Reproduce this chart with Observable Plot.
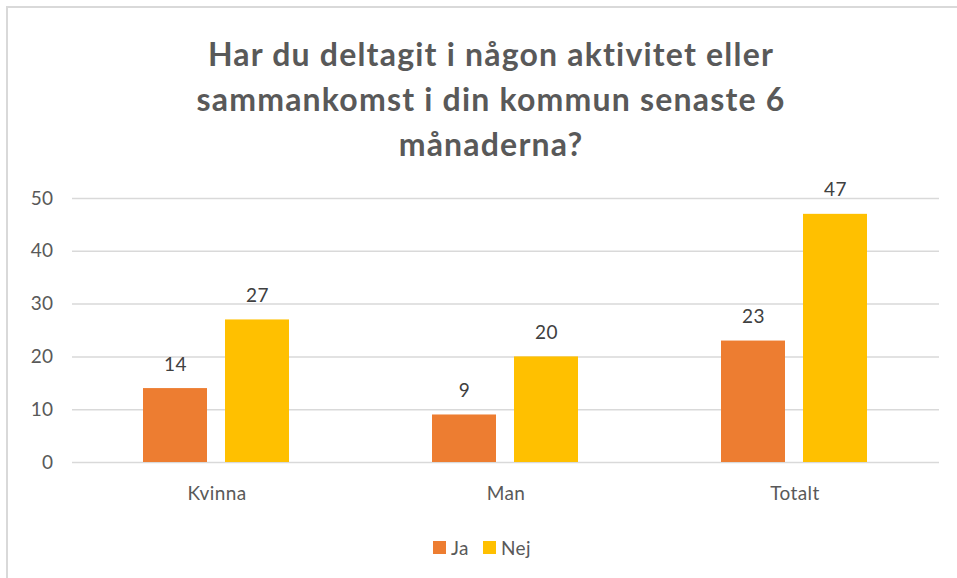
<!DOCTYPE html>
<html>
<head>
<meta charset="utf-8">
<script src="https://cdn.jsdelivr.net/npm/d3@7"></script>
<script src="https://cdn.jsdelivr.net/npm/@observablehq/plot@0.6"></script>
<style>
  html, body { margin: 0; padding: 0; background: #fff; overflow: hidden; }
  body { width: 957px; height: 578px; position: relative; font-family: Lato, "Open Sans", sans-serif; }
  #frame { position: absolute; left: 6px; top: 6px; width: 1000px; height: 620px; border: 2px solid #d9d9d9; box-sizing: border-box; }
  #title { position: absolute; left: 0; width: 982px; top: 31px; text-align: center; font-weight: bold; font-size: 32px; letter-spacing: 1.2px; line-height: 45px; color: #595959; }
  #chart { position: absolute; left: 0; top: 170px; }
  #chart svg text { letter-spacing: 0.4px; }
  #legend { position: absolute; top: 536px; left: 0; width: 964px; display: flex; justify-content: center; align-items: center; font-size: 19px; letter-spacing: 0.4px; color: #595959; }
  .sw { width: 13px; height: 13px; display: inline-block; margin-right: 5px; }
  .item { display: flex; align-items: center; margin: 0 7px; }
</style>
</head>
<body>
<div id="frame"></div>
<div id="title">Har du deltagit i någon aktivitet eller<br>sammankomst i din kommun senaste 6<br>månaderna?</div>
<div id="chart"></div>
<div id="legend"></div>
<script>
const categories = ["Kvinna", "Man", "Totalt"];
const series = ["Ja", "Nej"];
const jaValues = [14, 9, 23];
const nejValues = [27, 20, 47];
const yTicks = [0, 10, 20, 30, 40, 50];
const colors = ["#ED7D31", "#FFC000"];

const data = [];
categories.forEach((c, i) => {
  data.push({cat: c, series: "Ja", value: jaValues[i]});
  data.push({cat: c, series: "Nej", value: nejValues[i]});
});

const plot = Plot.plot({
  width: 957,
  height: 350,
  marginLeft: 71,
  marginRight: 17,
  marginTop: 28,
  marginBottom: 58,
  style: {fontFamily: "Lato, 'Open Sans', sans-serif", fontSize: "19px", color: "#595959", background: "transparent"},
  fx: {domain: categories, paddingInner: 0, paddingOuter: 0, label: null, axis: null},
  x: {domain: series, paddingInner: 0.218, paddingOuter: 0.862, axis: null},
  y: {domain: [0, 50], axis: null},
  color: {domain: series, range: colors},
  marks: [
    Plot.ruleY(yTicks, {stroke: "#d9d9d9", strokeWidth: 1.5}),
    Plot.barY(data, {fx: "cat", x: "series", y: "value", fill: "series"}),
    Plot.text(data, {fx: "cat", x: "series", y: "value", text: d => String(d.value), dy: -24, fill: "#404040", fontSize: 19}),
    Plot.axisY(yTicks, {tickSize: 0, tickPadding: 19, label: null, fontSize: 19, fill: "#595959"}),
    Plot.axisFx({anchor: "bottom", tickSize: 0, tickPadding: 24, label: null, fontSize: 19, fill: "#595959"})
  ]
});
document.getElementById("chart").appendChild(plot);

const legend = document.getElementById("legend");
series.forEach((s, i) => {
  const item = document.createElement("div");
  item.className = "item";
  const sw = document.createElement("span");
  sw.className = "sw";
  sw.style.background = colors[i];
  item.appendChild(sw);
  item.appendChild(document.createTextNode(s));
  legend.appendChild(item);
});
</script>
</body>
</html>
